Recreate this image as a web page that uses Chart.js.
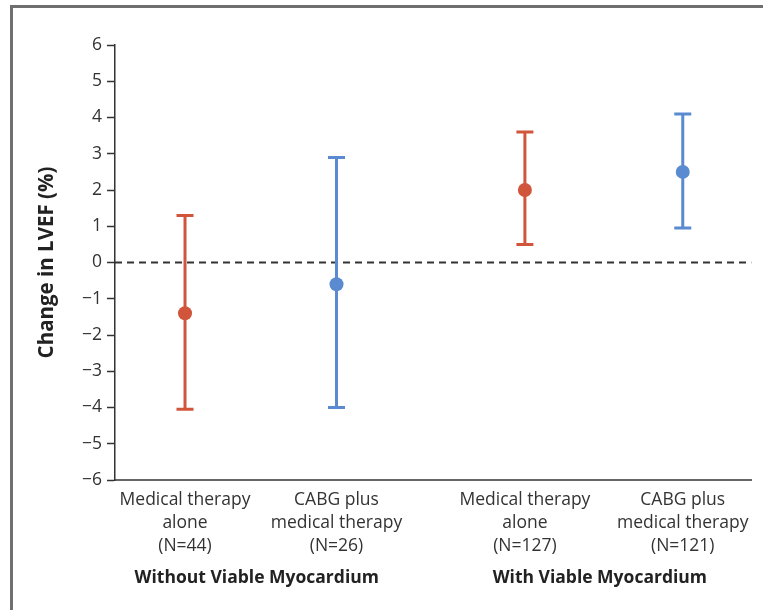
<!DOCTYPE html>
<html>
<head>
<meta charset="utf-8">
<script src="https://cdn.jsdelivr.net/npm/chart.js@4/dist/chart.umd.min.js"></script>
<style>
  html, body { margin: 0; padding: 0; background: #fff; }
  #wrap { position: relative; width: 763px; height: 610px; overflow: hidden; }
  #frame { position: absolute; left: 10px; top: 5px; width: 900px; height: 800px;
           border-left: 3px solid #6f6f6f; border-top: 3px solid #6f6f6f; }
  canvas { position: absolute; left: 0; top: 0; }
</style>
</head>
<body>
<div id="wrap">
  <div id="frame"></div>
  <canvas id="c" width="763" height="610"></canvas>
</div>
<script>
// Change in LVEF by treatment, split by myocardial viability
const groups = ['Without Viable Myocardium', 'With Viable Myocardium'];
const categories = [
  ['Medical therapy', 'alone', '(N=44)'],
  ['CABG plus', 'medical therapy', '(N=26)'],
  ['Medical therapy', 'alone', '(N=127)'],
  ['CABG plus', 'medical therapy', '(N=121)']
];
const means = [-1.4, -0.6, 2.0, 2.5];
const lower = [-4.05, -4.0, 0.5, 0.95];
const upper = [1.3, 2.9, 3.6, 4.1];
const yTicks = [-6, -5, -4, -3, -2, -1, 0, 1, 2, 3, 4, 5, 6];

// horizontal slot of each treatment on a 0–10 axis
const slotX = [1.1, 3.48, 6.44, 8.92];
const RED = '#d1553b';
const BLUE = '#5a8acf';
const colors = [RED, BLUE, RED, BLUE];
const FONT = '"Open Sans", Lato, sans-serif';

const whiskers = categories.map((_, i) => ({
  type: 'line',
  data: [{ x: slotX[i], y: lower[i] }, { x: slotX[i], y: upper[i] }],
  borderColor: colors[i],
  borderWidth: 3,
  pointStyle: 'line',
  pointRadius: 8.5,
  pointBorderWidth: 3,
  pointBorderColor: colors[i],
  order: 1
}));

const groupLabels = {
  id: 'groupLabels',
  afterDraw(chart) {
    const { ctx, scales } = chart;
    ctx.save();
    ctx.font = 'bold 17.5px ' + FONT;
    ctx.fillStyle = '#222';
    ctx.textAlign = 'center';
    ctx.textBaseline = 'middle';
    groups.forEach((g, k) => {
      const a = scales.x.getPixelForValue(slotX[2 * k]);
      const b = scales.x.getPixelForValue(slotX[2 * k + 1]);
      ctx.fillText(g, (a + b) / 2 - 4, 578);
    });
    ctx.restore();
  }
};

new Chart(document.getElementById('c'), {
  type: 'scatter',
  data: {
    datasets: [
      {
        data: means.map((m, i) => ({ x: slotX[i], y: m })),
        backgroundColor: colors,
        borderWidth: 0,
        pointRadius: 7,
        order: 0
      },
      ...whiskers,
      {
        type: 'line',
        data: [{ x: 0, y: 0 }, { x: 10, y: 0 }],
        borderColor: '#333',
        borderWidth: 1.8,
        borderDash: [7, 5],
        pointRadius: 0,
        order: 2
      }
    ]
  },
  options: {
    responsive: false,
    animation: false,
    layout: { padding: { top: 45, right: 11, left: 0, bottom: 0 } },
    plugins: { legend: { display: false }, tooltip: { enabled: false } },
    scales: {
      x: {
        type: 'linear',
        min: 0,
        max: 10,
        afterFit(scale) { scale.height = 130; },
        afterBuildTicks(scale) { scale.ticks = slotX.map(v => ({ value: v })); },
        grid: { drawOnChartArea: false, drawTicks: false },
        border: { display: true, color: '#666', width: 2 },
        ticks: {
          autoSkip: false,
          maxRotation: 0,
          padding: 8,
          color: '#333',
          font: { family: FONT, size: 17.5, lineHeight: 1.32 },
          callback: (v, i) => categories[i]
        }
      },
      y: {
        min: -6,
        max: 6,
        afterFit(scale) { scale.width = 115; },
        afterBuildTicks(scale) { scale.ticks = yTicks.map(v => ({ value: v })); },
        grid: { drawOnChartArea: false, drawTicks: true, tickLength: 8, tickColor: '#333', tickWidth: 1.5 },
        border: { display: true, color: '#333', width: 1.5 },
        ticks: {
          padding: 5,
          color: '#333',
          font: { family: FONT, size: 17.5 },
          callback: v => (v < 0 ? '\u2212' + Math.abs(v) : String(v))
        },
        title: {
          display: true,
          text: 'Change in LVEF (%)',
          color: '#222',
          font: { family: FONT, size: 20.5, weight: 'bold' },
          padding: { top: 35, bottom: 0 }
        }
      }
    }
  },
  plugins: [groupLabels]
});
</script>
</body>
</html>
